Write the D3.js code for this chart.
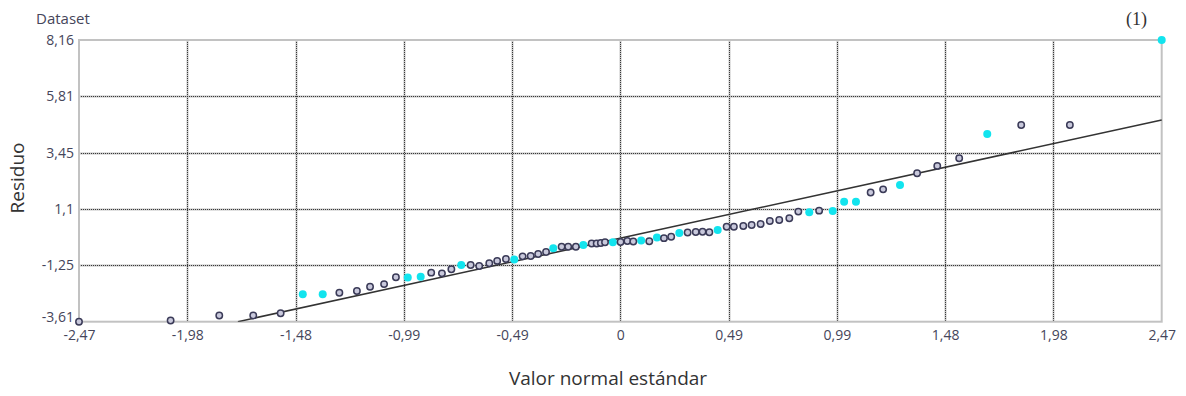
<!DOCTYPE html>
<html>
<head>
<meta charset="utf-8">
<script src="https://cdn.jsdelivr.net/npm/d3@7"></script>
<style>
  body { margin: 0; background: #fff; }
  svg { display: block; }
</style>
</head>
<body>
<figure id="chart" style="margin:0"></figure>
<script>
// tick values and the labels the source software printed
const xTickValues = [-2.47, -1.976, -1.482, -0.988, -0.494, 0, 0.494, 0.988, 1.482, 1.976, 2.47];
const xTickLabels = ['-2,47', '-1,98', '-1,48', '-0,99', '-0,49', '0', '0,49', '0,99', '1,48', '1,98', '2,47'];
const yTickValues = [-3.61, -1.256, 1.098, 3.452, 5.806, 8.16];
const yTickLabels = ['-3,61', '-1,25', '1,1', '3,45', '5,81', '8,16'];

// [standard normal value, residual] – regular observations (hollow markers)
const datasetPoints = [
  [-2.47, -3.61], [-2.052, -3.56], [-1.83, -3.35], [-1.675, -3.35], [-1.55, -3.26],
  [-1.282, -2.40], [-1.202, -2.33], [-1.142, -2.15], [-1.078, -2.04], [-1.024, -1.755],
  [-0.863, -1.56], [-0.814, -1.59], [-0.771, -1.42], [-0.683, -1.24], [-0.644, -1.28],
  [-0.598, -1.17], [-0.562, -1.07], [-0.522, -0.99], [-0.446, -0.88], [-0.409, -0.865],
  [-0.375, -0.78], [-0.339, -0.70], [-0.268, -0.48], [-0.238, -0.48], [-0.203, -0.48],
  [-0.131, -0.34], [-0.108, -0.34], [-0.089, -0.32], [-0.070, -0.29], [0.001, -0.28],
  [0.032, -0.24], [0.059, -0.26], [0.132, -0.25], [0.199, -0.12], [0.232, -0.06],
  [0.307, 0.12], [0.344, 0.14], [0.375, 0.15], [0.406, 0.13], [0.485, 0.36],
  [0.518, 0.36], [0.561, 0.39], [0.599, 0.43], [0.640, 0.47], [0.682, 0.60],
  [0.725, 0.64], [0.771, 0.71], [0.812, 0.99], [0.907, 1.03], [1.142, 1.79],
  [1.199, 1.92], [1.354, 2.59], [1.446, 2.90], [1.546, 3.22], [1.829, 4.61],
  [2.051, 4.61]
];

// highlighted observations (filled cyan markers)
const selectedPoints = [
  [-1.449, -2.465], [-1.358, -2.465], [-0.970, -1.76], [-0.911, -1.73], [-0.726, -1.24],
  [-0.484, -1.01], [-0.306, -0.54], [-0.169, -0.405], [-0.034, -0.29], [0.095, -0.22],
  [0.167, -0.09], [0.269, 0.10], [0.444, 0.22], [0.862, 0.96], [0.969, 1.02],
  [1.021, 1.40], [1.075, 1.40], [1.276, 2.10], [1.674, 4.23], [2.47, 8.16]
];

// reference line of the normal plot
const fitIntercept = -0.12;
const fitSlope = 2.0;

const width = 1186;
const height = 396;
const plotLeft = 79, plotRight = 1161.7, plotTop = 40, plotBottom = 321.7;

const svg = d3.select('#chart').append('svg')
  .attr('width', width)
  .attr('height', height)
  .style('font-family', '"Open Sans", sans-serif');

const x = d3.scaleLinear().domain([-2.47, 2.47]).range([plotLeft, plotRight]);
const y = d3.scaleLinear().domain([-3.61, 8.16]).range([plotBottom, plotTop]);

svg.append('defs').append('clipPath')
  .attr('id', 'plot-clip')
  .append('rect')
  .attr('x', plotLeft).attr('y', plotTop - 6)
  .attr('width', plotRight - plotLeft + 6).attr('height', plotBottom - plotTop + 6);

// grid: gray band with a dark dotted line on top
const grid = svg.append('g');
const innerX = xTickValues.slice(1, -1);
const innerY = yTickValues.slice(1, -1);
[['#c4c4c4', 2, null], ['#3a3a3a', 1, '1,1']].forEach(function (st) {
  grid.append('g').selectAll('line').data(innerX).enter().append('line')
    .attr('x1', function (d) { return Math.round(x(d)) + 0.5; })
    .attr('x2', function (d) { return Math.round(x(d)) + 0.5; })
    .attr('y1', plotTop).attr('y2', plotBottom)
    .attr('stroke', st[0]).attr('stroke-width', st[1])
    .attr('stroke-dasharray', st[2]);
  grid.append('g').selectAll('line').data(innerY).enter().append('line')
    .attr('y1', function (d) { return Math.round(y(d)) + 0.5; })
    .attr('y2', function (d) { return Math.round(y(d)) + 0.5; })
    .attr('x1', plotLeft).attr('x2', plotRight)
    .attr('stroke', st[0]).attr('stroke-width', st[1])
    .attr('stroke-dasharray', st[2]);
});

svg.append('rect')
  .attr('x', plotLeft).attr('y', plotTop)
  .attr('width', plotRight - plotLeft).attr('height', plotBottom - plotTop)
  .attr('fill', 'none')
  .attr('stroke', '#c2c2c2')
  .attr('stroke-width', 2);

// axes (labels only)
const xAxis = d3.axisBottom(x)
  .tickValues(xTickValues)
  .tickFormat(function (d, i) { return xTickLabels[i]; })
  .tickSize(0)
  .tickPadding(8);
const gx = svg.append('g')
  .attr('transform', 'translate(0,' + plotBottom + ')')
  .call(xAxis);

const yAxis = d3.axisLeft(y)
  .tickValues(yTickValues)
  .tickFormat(function (d, i) { return yTickLabels[i]; })
  .tickSize(0)
  .tickPadding(5);
const gy = svg.append('g')
  .attr('transform', 'translate(' + plotLeft + ',0)')
  .call(yAxis);

[gx, gy].forEach(function (g) {
  g.select('.domain').remove();
  g.selectAll('text')
    .style('font-family', '"Open Sans", sans-serif')
    .style('font-size', '14px')
    .attr('fill', '#45455a');
});
// the lowest y label sits a touch above its line, as in the source
gy.selectAll('.tick text').filter(function (d, i) { return i === 0; })
  .attr('dy', '0em');

// fit line
const lineStart = (-3.61 - fitIntercept) / fitSlope;
const line = d3.line()
  .x(function (d) { return x(d); })
  .y(function (d) { return y(fitIntercept + fitSlope * d); });
svg.append('path')
  .attr('clip-path', 'url(#plot-clip)')
  .attr('d', line([lineStart, 2.47]))
  .attr('fill', 'none')
  .attr('stroke', '#333')
  .attr('stroke-width', 1.6);

// markers
svg.append('g').selectAll('circle')
  .data(selectedPoints)
  .enter().append('circle')
  .attr('cx', function (d) { return x(d[0]); })
  .attr('cy', function (d) { return y(d[1]); })
  .attr('r', 4)
  .attr('fill', '#12e4ee');

svg.append('g').selectAll('circle')
  .data(datasetPoints)
  .enter().append('circle')
  .attr('cx', function (d) { return x(d[0]); })
  .attr('cy', function (d) { return y(d[1]); })
  .attr('r', 3.2)
  .attr('fill', '#c9c9dc')
  .attr('stroke', '#3b3b58')
  .attr('stroke-width', 1.5);

// titles
svg.append('text')
  .attr('x', 36).attr('y', 24)
  .style('font-size', '15px')
  .attr('fill', '#45455a')
  .text('Dataset');

svg.append('text')
  .attr('x', 1147).attr('y', 25)
  .attr('text-anchor', 'end')
  .style('font-family', '"Liberation Serif", serif')
  .style('font-size', '18px')
  .attr('fill', '#333')
  .text('(1)');

svg.append('text')
  .attr('transform', 'translate(24,' + 178 + ') rotate(-90)')
  .attr('text-anchor', 'middle')
  .style('font-size', '19px')
  .attr('fill', '#333')
  .text('Residuo');

svg.append('text')
  .attr('x', 608).attr('y', 385)
  .attr('text-anchor', 'middle')
  .style('font-size', '19px')
  .attr('fill', '#333')
  .text('Valor normal estándar');
</script>
</body>
</html>
